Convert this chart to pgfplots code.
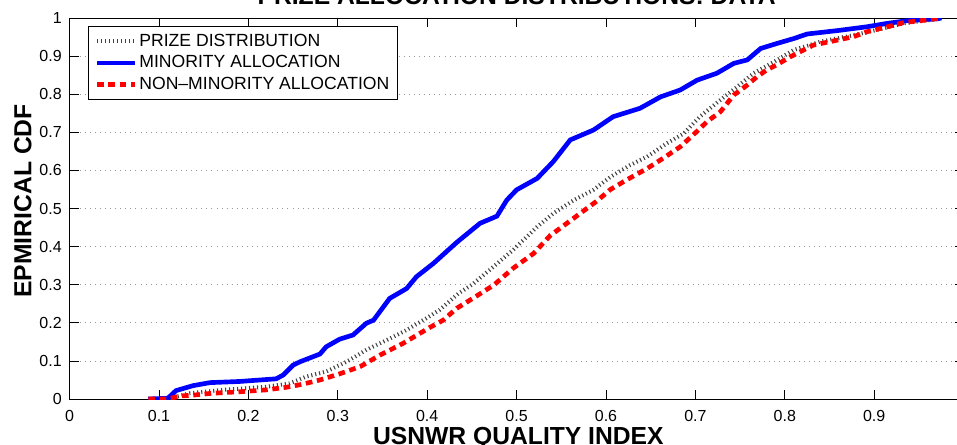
\documentclass[border=0pt]{standalone}
\usepackage{pgfplots}
\pgfplotsset{compat=1.18}
\usepackage{fontspec}
\setmainfont{Liberation Sans}
\definecolor{mblue}{RGB}{0,0,255}
\definecolor{mred}{RGB}{255,0,0}
\begin{document}
\begin{tikzpicture}
\begin{axis}[
  scale only axis,
  width=670.5pt, height=285.75pt,
  xmin=0, xmax=1, ymin=0, ymax=1,
  xtick={0,0.1,...,1.01}, ytick={0,0.1,...,1.01},
  /pgf/number format/.cd, fixed, precision=1, assume math mode=true,
  /pgfplots/.cd,
  tick align=inside,
  major tick length=6.75pt,
  tick style={black, line width=0.5pt},
  axis line style={black, line width=0.6pt},
  ymajorgrids=true,
  major grid style={gray!80, line width=0.6pt, dash pattern=on 0.6pt off 3.2pt},
  tick label style={font=\fontsize{12}{14}\selectfont},
  xticklabel style={anchor=base, yshift=-16.9pt, inner sep=0pt},
  yticklabel style={anchor=east, xshift=-5.7pt, inner sep=0pt},
  title={\bfseries PRIZE ALLOCATION DISTRIBUTIONS: DATA},
  every axis title shift=0pt,
  every axis title/.style={at={(axis description cs:0.5,1.0367)}, anchor=base, font=\fontsize{18.5}{20}\selectfont, inner sep=0pt},
  xlabel={\bfseries USNWR QUALITY INDEX},
  every axis x label/.style={at={(axis description cs:0.502,-0.1181)}, anchor=base, font=\fontsize{18.5}{20}\selectfont, inner sep=0pt},
  ylabel={\bfseries EPMIRICAL CDF},
  every axis y label/.style={at={(axis description cs:-0.0428,0.52)}, anchor=base, rotate=90, font=\fontsize{18.5}{20}\selectfont, inner sep=0pt},
  legend cell align=left,
  legend style={at={(axis description cs:0.0209,0.979)}, anchor=north west,
    font=\fontsize{13.2}{15}\selectfont, draw=black, line width=0.6pt,
    inner xsep=4.5pt, inner ysep=3pt, row sep=0pt,
    nodes={inner xsep=1.5pt, inner ysep=2.75pt}},
  legend image code/.code={\draw[#1] (0pt,0pt) -- (28.5pt,0pt);},
]
\addplot[black!75, line width=3pt, dash pattern=on 0.8pt off 2.2pt] coordinates {
(0.09,0) (0.11,0) (0.134,0.015) (0.172,0.024) (0.22,0.032) (0.246,0.041) (0.265,0.059) (0.287,0.072) (0.31,0.098) (0.332,0.129) (0.355,0.155) (0.377,0.181) (0.399,0.212) (0.414,0.234) (0.435,0.277) (0.45,0.30) (0.47,0.339) (0.496,0.391) (0.523,0.452) (0.541,0.487) (0.564,0.522) (0.586,0.549) (0.605,0.583) (0.627,0.614) (0.646,0.636) (0.668,0.671) (0.687,0.697) (0.705,0.741) (0.728,0.785) (0.747,0.82) (0.765,0.855) (0.788,0.885) (0.81,0.916) (0.84,0.938) (0.877,0.955) (0.911,0.973) (0.933,0.986) (0.971,0.997) (0.975,1)
};
\addlegendentry{PRIZE DISTRIBUTION}
\addplot[mblue, line width=3.5pt] coordinates {
(0.088,0) (0.110,0.002) (0.119,0.022) (0.138,0.035) (0.157,0.043) (0.19,0.046) (0.231,0.053) (0.239,0.063) (0.25,0.089) (0.258,0.098) (0.28,0.118) (0.287,0.137) (0.302,0.157) (0.317,0.168) (0.332,0.199) (0.34,0.207) (0.358,0.264) (0.377,0.29) (0.388,0.321) (0.407,0.356) (0.433,0.411) (0.459,0.461) (0.478,0.48) (0.489,0.522) (0.5,0.549) (0.523,0.579) (0.541,0.623) (0.56,0.68) (0.586,0.706) (0.608,0.741) (0.638,0.763) (0.661,0.793) (0.683,0.811) (0.702,0.837) (0.724,0.855) (0.743,0.881) (0.758,0.89) (0.773,0.92) (0.791,0.933) (0.81,0.946) (0.825,0.958) (0.859,0.967) (0.892,0.977) (0.915,0.986) (0.937,0.993) (0.971,0.998) (0.975,1)
};
\addlegendentry{MINORITY ALLOCATION}
\addplot[mred, line width=3.5pt, dash pattern=on 5pt off 3.5pt] coordinates {
(0.088,0) (0.108,0.0) (0.125,0.008) (0.142,0.011) (0.159,0.015) (0.19,0.019) (0.22,0.024) (0.243,0.031) (0.261,0.039) (0.28,0.05) (0.302,0.066) (0.325,0.085) (0.347,0.115) (0.373,0.146) (0.403,0.188) (0.418,0.207) (0.433,0.238) (0.455,0.27) (0.475,0.30) (0.496,0.343) (0.519,0.382) (0.538,0.43) (0.551,0.452) (0.571,0.487) (0.59,0.52) (0.605,0.55) (0.623,0.575) (0.646,0.605) (0.664,0.632) (0.683,0.662) (0.702,0.703) (0.713,0.728) (0.728,0.754) (0.743,0.798) (0.758,0.824) (0.769,0.846) (0.78,0.864) (0.791,0.877) (0.806,0.898) (0.821,0.916) (0.832,0.929) (0.859,0.942) (0.877,0.951) (0.892,0.964) (0.915,0.977) (0.933,0.988) (0.959,0.995) (0.975,1)
};
\addlegendentry{NON--MINORITY ALLOCATION}
\end{axis}
\pgfresetboundingbox
\path[use as bounding box] (-52.2pt,-33.75pt) rectangle (665.55pt,299.25pt);
\end{tikzpicture}
\end{document}
